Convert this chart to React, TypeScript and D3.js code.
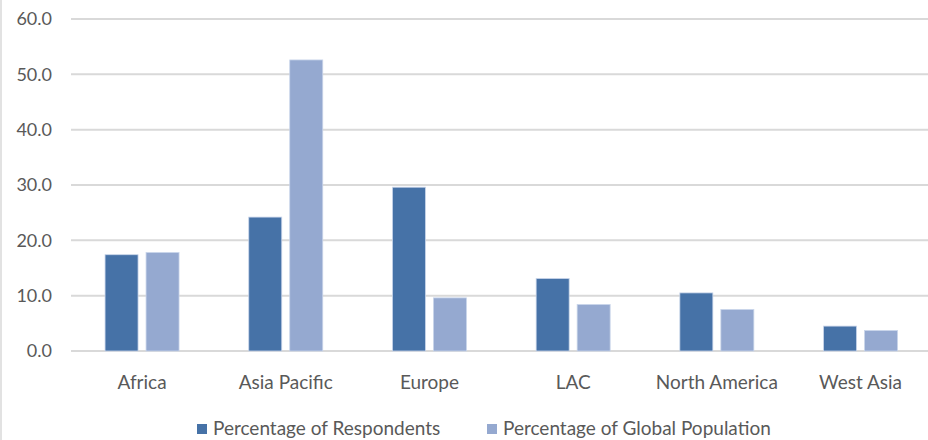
import React from "react";
import * as d3 from "d3";

const categories = ["Africa", "Asia Pacific", "Europe", "LAC", "North America", "West Asia"];
const seriesNames = ["Percentage of Respondents", "Percentage of Global Population"];
const respondents = [17.4, 24.2, 29.6, 13.1, 10.5, 4.5];
const population = [17.8, 52.6, 9.6, 8.4, 7.5, 3.7];
const yTicks = [0, 10, 20, 30, 40, 50, 60];
const colors = ["#4672A7", "#95A9D0"];

const W = 928;
const H = 440;
const plotLeft = 71;
const plotRight = 928;
const bandLeft = 70.2;
const bandRight = 932.4;
const yTop = 19;
const yBase = 351;
const font = "Lato, 'Open Sans', sans-serif";
const textColor = "#595959";

export default function App() {
  const x0 = d3.scaleBand<string>().domain(categories).range([bandLeft, bandRight]).paddingInner(0).paddingOuter(0);
  const groupW = 74;
  const x1 = d3
    .scaleBand<number>()
    .domain([0, 1])
    .range([0, groupW])
    .paddingInner(2 - groupW / 41)
    .paddingOuter(0);
  const y = d3.scaleLinear().domain([0, 60]).range([yBase, yTop]);
  const series = [respondents, population];
  const legendX = [197, 487];

  return (
    <svg width={W} height={H} style={{ position: "absolute", left: 0, top: 0, background: "#fff" }}>
      <rect x={0} y={0} width={W} height={H} fill="#fff" />
      <line x1={1} x2={1} y1={0} y2={H} stroke="#d9d9d9" strokeWidth={1.5} />
      {yTicks.map((t) => (
        <g key={t}>
          <line x1={plotLeft} x2={plotRight} y1={y(t)} y2={y(t)} stroke="#d9d9d9" strokeWidth={2} />
          <text
            x={52}
            y={y(t)}
            dy="0.36em"
            textAnchor="end"
            fontFamily={font}
            fontSize={18}
            fill={textColor}
          >
            {t.toFixed(1)}
          </text>
        </g>
      ))}
      {categories.map((c, i) => {
        const gx = (x0(c) as number) + (x0.bandwidth() - groupW) / 2;
        return (
          <g key={c}>
            {series.map((s, k) => (
              <rect
                key={k}
                x={gx + (x1(k) as number)}
                y={y(s[i])}
                width={x1.bandwidth()}
                height={yBase - y(s[i])}
                fill={colors[k]}
                stroke="#c9d5ea"
                strokeWidth={0.8}
              />
            ))}
            <text
              x={(x0(c) as number) + x0.bandwidth() / 2}
              y={389}
              textAnchor="middle"
              fontFamily={font}
              fontSize={19}
              fill={textColor}
            >
              {c}
            </text>
          </g>
        );
      })}
      {seriesNames.map((n, k) => {
        const lx = legendX[k];
        return (
          <g key={n}>
            <rect x={lx} y={424} width={10} height={10} fill={colors[k]} />
            <text x={lx + 16} y={435} fontFamily={font} fontSize={19} fill={textColor}>
              {n}
            </text>
          </g>
        );
      })}
    </svg>
  );
}
